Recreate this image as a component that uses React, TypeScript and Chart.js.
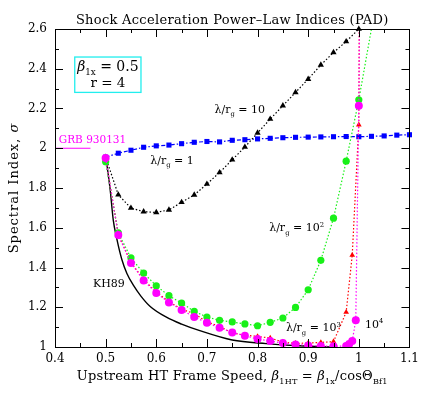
import React, { useEffect, useRef } from 'react';
import { Chart, registerables } from 'chart.js';
Chart.register(...registerables);

// ---------- axis ticks ----------
const X_TICKS = [0.4, 0.5, 0.6, 0.7, 0.8, 0.9, 1.0, 1.1];
const X_MINOR = [0.45, 0.55, 0.65, 0.75, 0.85, 0.95, 1.05];
const Y_TICKS = [1, 1.2, 1.4, 1.6, 1.8, 2, 2.2, 2.4, 2.6];
const Y_MINOR = [1.1, 1.3, 1.5, 1.7, 1.9, 2.1, 2.3, 2.5];

// ---------- series (x = beta_1HT, y = spectral index) ----------
const LAMBDA_1: [number, number][] = [
  [0.5, 1.955], [0.525, 1.975], [0.55, 1.99], [0.575, 2.005], [0.6, 2.012], [0.625, 2.016],
  [0.65, 2.023], [0.675, 2.03], [0.7, 2.034], [0.725, 2.032], [0.75, 2.04], [0.775, 2.043],
  [0.8, 2.047], [0.825, 2.05], [0.85, 2.053], [0.875, 2.055], [0.9, 2.056], [0.925, 2.057],
  [0.95, 2.058], [0.975, 2.059], [1.0, 2.058], [1.025, 2.06], [1.05, 2.062], [1.075, 2.066],
  [1.1, 2.068],
];
const LAMBDA_10: [number, number][] = [
  [0.5, 1.955], [0.525, 1.766], [0.55, 1.699], [0.575, 1.681], [0.6, 1.677], [0.625, 1.69],
  [0.65, 1.728], [0.675, 1.765], [0.7, 1.82], [0.725, 1.878], [0.75, 1.942], [0.775, 2.006],
  [0.8, 2.077], [0.825, 2.147], [0.85, 2.214], [0.875, 2.281], [0.9, 2.348], [0.925, 2.419],
  [0.95, 2.482], [0.975, 2.537], [1.0, 2.6],
];
const LAMBDA_100: [number, number][] = [
  [0.5, 1.932], [0.525, 1.574], [0.55, 1.448], [0.575, 1.372], [0.6, 1.308], [0.625, 1.258],
  [0.65, 1.221], [0.675, 1.179], [0.7, 1.151], [0.725, 1.134], [0.75, 1.126], [0.775, 1.116],
  [0.8, 1.107], [0.825, 1.124], [0.85, 1.146], [0.875, 1.199], [0.9, 1.288], [0.925, 1.436],
  [0.95, 1.648], [0.975, 1.935], [1.0, 2.244], [1.05, 2.96],
];
const LAMBDA_1000: [number, number][] = [
  [0.5, 1.95], [0.525, 1.565], [0.55, 1.425], [0.575, 1.34], [0.6, 1.276], [0.625, 1.228],
  [0.65, 1.19], [0.675, 1.168], [0.7, 1.126], [0.725, 1.104], [0.75, 1.07], [0.775, 1.06],
  [0.8, 1.053], [0.825, 1.045], [0.85, 1.025], [0.875, 1.018], [0.9, 1.02], [0.925, 1.023],
  [0.95, 1.027], [0.975, 1.175], [0.987, 1.462], [1.0, 2.118], [1.002, 3.2],
];
const LAMBDA_10000: [number, number][] = [
  [0.5, 1.951], [0.525, 1.563], [0.55, 1.423], [0.575, 1.335], [0.6, 1.272], [0.625, 1.224],
  [0.65, 1.186], [0.675, 1.151], [0.7, 1.122], [0.725, 1.097], [0.75, 1.073], [0.775, 1.057],
  [0.8, 1.04], [0.825, 1.03], [0.85, 1.02], [0.875, 1.013], [0.9, 1.008], [0.925, 1.005],
  [0.95, 1.004], [0.975, 1.005], [0.981, 1.015], [0.987, 1.03], [0.994, 1.135], [1.0, 2.214],
  [1.003, 3.2],
];
const KH89: [number, number][] = [
  [0.5, 1.967], [0.505, 1.87], [0.509, 1.79], [0.515, 1.64], [0.522, 1.545], [0.532, 1.44],
  [0.542, 1.37], [0.555, 1.31], [0.57, 1.255], [0.588, 1.204], [0.62, 1.15], [0.65, 1.115],
  [0.686, 1.082], [0.75, 1.035], [0.817, 1.017], [0.882, 1.006], [0.95, 1.0],
];
const GRB_930131: [number, number][] = [[0.4, 2.0], [0.47, 2.0]];

const FAM = '"DejaVu Serif"';
type Seg = { t: string; k?: 'n' | 'i' | 'sub' | 'sup' };

function fontFor(k: string | undefined, size: number) {
  if (k === 'sub' || k === 'sup') return `${(size * 0.62).toFixed(1)}px ${FAM}`;
  if (k === 'i') return `italic ${size}px ${FAM}`;
  return `${size}px ${FAM}`;
}

function drawRich(ctx: any, segs: Seg[], x: number, y: number, size: number, align: 'left' | 'center', color: string, spacing = 0) {
  ctx.save();
  ctx.letterSpacing = `${spacing}px`;
  let total = 0;
  for (const s of segs) { ctx.font = fontFor(s.k, size); total += ctx.measureText(s.t).width; }
  let cx = align === 'center' ? x - total / 2 : x;
  ctx.textAlign = 'left';
  ctx.textBaseline = 'alphabetic';
  ctx.fillStyle = color;
  for (const s of segs) {
    ctx.font = fontFor(s.k, size);
    const dy = s.k === 'sub' ? size * 0.3 : s.k === 'sup' ? -size * 0.42 : 0;
    ctx.fillText(s.t, cx, y + dy);
    cx += ctx.measureText(s.t).width;
  }
  ctx.restore();
}

const lam = (rest: Seg[]): Seg[] => [{ t: 'λ/r' }, { t: 'g', k: 'sub' }, ...rest];

const decor = {
  id: 'decor',
  afterDraw(chart: any) {
    const { ctx, chartArea: a } = chart;
    const xs = chart.scales.x, ys = chart.scales.y;
    ctx.save();
    ctx.strokeStyle = '#000';
    ctx.lineWidth = 1;
    ctx.strokeRect(Math.round(a.left) + 0.5, Math.round(a.top) + 0.5, Math.round(a.right - a.left), Math.round(a.bottom - a.top));
    const tick = (x1: number, y1: number, x2: number, y2: number) => {
      ctx.beginPath(); ctx.moveTo(x1, y1); ctx.lineTo(x2, y2); ctx.stroke();
    };
    const xt = (list: number[], len: number) => list.forEach(v => {
      const px = Math.round(xs.getPixelForValue(v)) + 0.5;
      tick(px, a.bottom, px, a.bottom - len);
      tick(px, a.top, px, a.top + len);
    });
    const yt = (list: number[], len: number) => list.forEach(v => {
      const py = Math.round(ys.getPixelForValue(v)) + 0.5;
      tick(a.left, py, a.left + len, py);
      tick(a.right, py, a.right - len, py);
    });
    xt(X_TICKS, 8); xt(X_MINOR, 4); yt(Y_TICKS, 8); yt(Y_MINOR, 4);

    const P = (vx: number, vy: number) => [xs.getPixelForValue(vx), ys.getPixelForValue(vy)];
    const cxPlot = (a.left + a.right) / 2;

    // title
    drawRich(ctx, [{ t: 'Shock Acceleration Power–Law Indices (PAD)' }], cxPlot, 24, 13, 'center', '#000', 0.3);
    // x title
    drawRich(ctx, [
      { t: 'Upstream HT Frame Speed, ' }, { t: 'β', k: 'i' }, { t: '1HT', k: 'sub' },
      { t: ' = ' }, { t: 'β', k: 'i' }, { t: '1x', k: 'sub' }, { t: '/cosΘ' }, { t: 'Bf1', k: 'sub' },
    ], cxPlot, 380, 13, 'center', '#000', 0.2);
    // y title
    ctx.save();
    ctx.translate(18, (a.top + a.bottom) / 2);
    ctx.rotate(-Math.PI / 2);
    drawRich(ctx, [{ t: 'Spectral Index, ' }, { t: 'σ', k: 'i' }], 0, 0, 13, 'center', '#000', 1);
    ctx.restore();

    // parameter box
    const [bx1, by1] = P(0.439, 2.459);
    const [bx2, by2] = P(0.5698, 2.281);
    ctx.strokeStyle = '#22eeee';
    ctx.lineWidth = 1.3;
    ctx.strokeRect(bx1, by1, bx2 - bx1, by2 - by1);
    const bcx = (bx1 + bx2) / 2;
    drawRich(ctx, [{ t: 'β', k: 'i' }, { t: '1x', k: 'sub' }, { t: ' = 0.5' }], bcx, by1 + 14, 14, 'center', '#000', 0);
    drawRich(ctx, [{ t: 'r = 4' }], bcx, by1 + 30, 13.5, 'center', '#000', 0);

    const lab = (segs: Seg[], vx: number, vy: number, color = '#000', size = 11) => {
      const [px, py] = P(vx, vy);
      drawRich(ctx, segs, px, py, size, 'left', color);
    };
    lab([{ t: 'GRB 930131' }], 0.4075, 2.026, '#ff00ff', 10.5);
    lab(lam([{ t: ' = 1' }]), 0.588, 1.92);
    lab(lam([{ t: ' = 10' }]), 0.715, 2.177);
    lab(lam([{ t: ' = 10' }, { t: '2', k: 'sup' }]), 0.823, 1.582);
    lab(lam([{ t: ' = 10' }, { t: '3', k: 'sup' }]), 0.856, 1.078);
    lab([{ t: '10' }, { t: '4', k: 'sup' }], 1.012, 1.096);
    lab([{ t: 'KH89' }], 0.475, 1.30);
    ctx.restore();
  },
};

const pts = (d: [number, number][]) => d.map(([x, y]) => ({ x, y }));

export default function App() {
  const ref = useRef<HTMLCanvasElement>(null);
  useEffect(() => {
    if (!ref.current) return;
    const dotted = [1.5, 2];
    const chart = new Chart(ref.current, {
      type: 'scatter',
      data: {
        datasets: [
          { label: 'lambda/rg=1e4', data: pts(LAMBDA_10000), showLine: true, borderColor: '#ff00ff', backgroundColor: '#ff00ff', borderWidth: 1.2, borderDash: dotted, pointStyle: 'circle', pointRadius: (c: any) => (c.raw && c.raw.y > 2.7 ? 0 : 4), pointBorderWidth: 0, clip: 0 } as any,
          { label: 'lambda/rg=1e2', data: pts(LAMBDA_100), showLine: true, borderColor: '#18f018', backgroundColor: '#18f018', borderWidth: 1.2, borderDash: dotted, pointStyle: 'circle', pointRadius: 3.6, pointBorderWidth: 0, clip: 0 } as any,
          { label: 'lambda/rg=1e3', data: pts(LAMBDA_1000), showLine: true, borderColor: '#ff0000', backgroundColor: '#ff0000', borderWidth: 1.2, borderDash: dotted, pointStyle: 'triangle', pointRadius: (c: any) => (c.raw && c.raw.y > 2.7 ? 0 : 3.3), pointBorderWidth: 0, clip: 0 } as any,
          { label: 'lambda/rg=10', data: pts(LAMBDA_10), showLine: true, borderColor: '#000', backgroundColor: '#000', borderWidth: 1.2, borderDash: dotted, pointStyle: 'triangle', pointRadius: 3.6, pointBorderWidth: 0, clip: false } as any,
          { label: 'lambda/rg=1', data: pts(LAMBDA_1), showLine: true, borderColor: '#0000ff', backgroundColor: '#0000ff', borderWidth: 1.2, borderDash: [4, 2, 1.5, 2], pointStyle: 'rect', pointRadius: 3.6, pointBorderWidth: 0, clip: false } as any,
          { label: 'KH89', data: pts(KH89), showLine: true, borderColor: '#000', borderWidth: 1.4, pointRadius: 0, cubicInterpolationMode: 'monotone' } as any,
          { label: 'GRB 930131', data: pts(GRB_930131), showLine: true, borderColor: '#ff00ff', borderWidth: 1.2, pointRadius: 0 } as any,
        ],
      },
      options: {
        responsive: false,
        animation: false,
        events: [],
        layout: { padding: { top: 29, right: 13, left: 0, bottom: 0 } },
        plugins: { legend: { display: false }, tooltip: { enabled: false }, title: { display: false } },
        scales: {
          x: {
            type: 'linear', min: 0.4, max: 1.1,
            grid: { display: false, drawTicks: false },
            border: { display: false },
            afterBuildTicks: (s: any) => { s.ticks = X_TICKS.map(v => ({ value: v })); },
            afterFit: (s: any) => { s.height = 58; },
            ticks: {
              padding: 5, color: '#000', font: { family: 'DejaVu Serif', size: 12 },
              maxRotation: 0, autoSkip: false,
              callback: (v: any) => String(parseFloat(Number(v).toFixed(2))),
            },
          },
          y: {
            type: 'linear', min: 1, max: 2.6,
            grid: { display: false, drawTicks: false },
            border: { display: false },
            afterBuildTicks: (s: any) => { s.ticks = Y_TICKS.map(v => ({ value: v })); },
            afterFit: (s: any) => { s.width = 55; },
            ticks: {
              padding: 8, color: '#000', font: { family: 'DejaVu Serif', size: 12 },
              autoSkip: false,
              callback: (v: any) => String(parseFloat(Number(v).toFixed(2))),
            },
          },
        },
      } as any,
      plugins: [decor],
    });
    return () => chart.destroy();
  }, []);
  return (
    <div style={{ position: 'fixed', left: 0, top: 0, width: 424, height: 405, background: '#fff' }}>
      <canvas ref={ref} width={424} height={405} style={{ display: 'block' }} />
    </div>
  );
}
